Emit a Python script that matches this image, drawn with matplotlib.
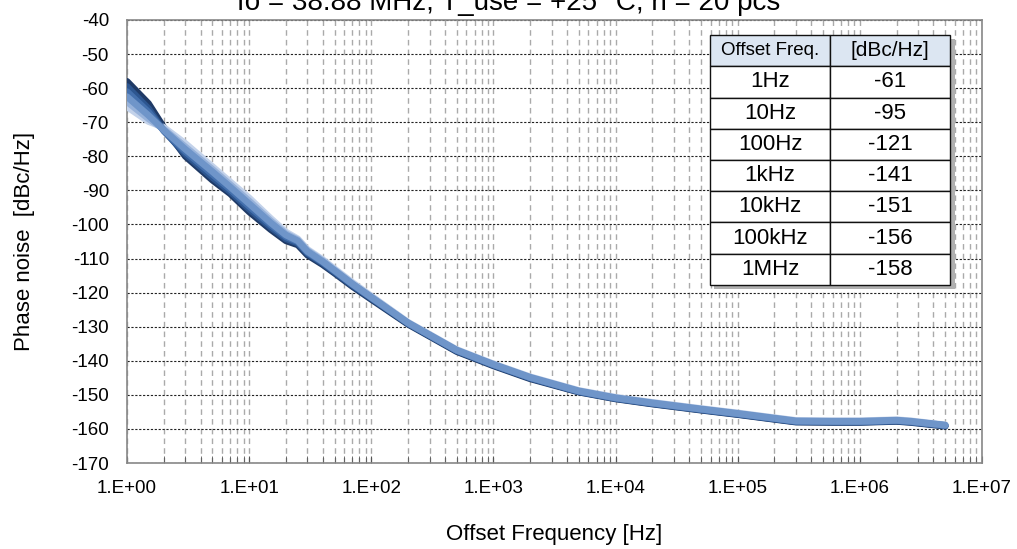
import matplotlib.pyplot as plt
from matplotlib.ticker import FuncFormatter, LogLocator, MultipleLocator
from matplotlib.patches import Rectangle
import numpy as np

plt.rcParams['font.family'] = ['Liberation Sans', 'DejaVu Sans']
plt.rcParams['axes.unicode_minus'] = False

# offset frequencies [Hz]
freq = [1, 1.5, 2, 3, 5, 7, 10, 15, 20, 25, 30, 40, 50, 70, 100,
        200, 500, 1e3, 2e3, 5e3, 1e4, 2e4, 5e4, 1e5, 2e5, 3e5, 6e5, 1e6, 2e6, 2.6e6, 5e6]

# phase noise of a few samples [dBc/Hz]
pn_1 = [-58, -64.5, -71.5, -80, -87, -91, -96.3, -101.5, -104.8, -106, -109, -111.8, -114.3, -118.2, -122.0,
        -129.3, -137.3, -141.5, -145.3, -149.2, -151.2, -152.7, -154.5, -155.8, -157.2, -158.0, -158.1, -158.1, -157.8, -158.1, -159.2]
pn_2 = [-59.5, -66, -72.5, -79.3, -86.2, -90.4, -95.5, -100.8, -104.2, -105.5, -108.5, -111.4, -114.0, -117.9, -121.7,
        -129.1, -137.1, -141.3, -145.1, -149.1, -151.1, -152.6, -154.4, -155.7, -157.1, -157.9, -158.0, -158.0, -157.7, -158.0, -159.1]
pn_3 = [-61, -67, -72.5, -78.6, -85.3, -89.7, -94.7, -100.1, -103.6, -105.1, -108.2, -111.1, -113.7, -117.6, -121.5,
        -129.0, -137.0, -141.2, -145.0, -149.0, -151.0, -152.5, -154.3, -155.6, -157.0, -157.8, -157.9, -157.9, -157.6, -157.9, -159.0]
pn_4 = [-62.5, -68, -72.3, -77.9, -84.5, -89, -93.9, -99.5, -103.1, -104.8, -107.9, -110.9, -113.5, -117.5, -121.4,
        -128.9, -136.9, -141.1, -144.9, -148.9, -150.9, -152.4, -154.2, -155.5, -156.9, -157.7, -157.8, -157.8, -157.5, -157.8, -158.9]
pn_5 = [-64, -69, -72, -77.2, -83.8, -88.3, -93.1, -98.9, -102.7, -104.5, -107.6, -110.6, -113.3, -117.3, -121.2,
        -128.8, -136.8, -141.0, -144.8, -148.8, -150.8, -152.3, -154.1, -155.4, -156.8, -157.6, -157.7, -157.7, -157.4, -157.7, -158.9]
pn_6 = [-65.5, -69.8, -71.5, -76.2, -83, -87.5, -92.2, -98.2, -102.2, -104.2, -107.3, -110.3, -113.0, -117.0, -121.0,
        -128.7, -136.7, -140.9, -144.7, -148.7, -150.7, -152.2, -154.0, -155.3, -156.7, -157.5, -157.6, -157.6, -157.3, -157.6, -158.8]

# typical values table
tbl_freq = ['1Hz', '10Hz', '100Hz', '1kHz', '10kHz', '100kHz', '1MHz']
tbl_pn = ['-61', '-95', '-121', '-141', '-151', '-156', '-158']

fig = plt.figure(figsize=(10.17, 5.49), dpi=100)
ax = fig.add_subplot(111)
fig.subplots_adjust(left=127/1017, right=982/1017, bottom=1-463/549, top=1-20/549)

# dark first, medium blue last (on top)
series = [(pn_1, '#1f3a66'), (pn_6, '#c3d2ea'), (pn_2, '#2d5690'),
          (pn_5, '#97b2da'), (pn_3, '#4470ad'), (pn_4, '#6f95c9')]
for vals, c in series:
    ax.plot(freq, vals, color=c, lw=4.8, solid_capstyle='round', solid_joinstyle='round', zorder=3)

ax.set_xscale('log')
ax.set_xlim(1, 1e7)
ax.set_ylim(-170, -40)
ax.yaxis.set_major_locator(MultipleLocator(10))
ax.xaxis.set_major_locator(LogLocator(base=10, numticks=10))
ax.xaxis.set_minor_locator(LogLocator(base=10, subs=np.arange(2, 10), numticks=100))
ax.xaxis.set_major_formatter(FuncFormatter(lambda x, p: '1.E+%02d' % int(round(np.log10(x)))))
ax.xaxis.set_minor_formatter(FuncFormatter(lambda x, p: ''))

ax.grid(True, axis='y', which='major', color='#222222', ls=(0, (2, 1.5)), lw=0.8)
ax.grid(True, axis='x', which='both', color='#aaaaaa', ls=(0, (4, 3)), lw=1.0)

ax.tick_params(axis='x', which='both', direction='in', length=5, color='#555555',
               labelsize=13.5, pad=12)
ax.tick_params(axis='y', length=0, labelsize=13.5, pad=13)
for s in ax.spines.values():
    s.set_color('#888888')
    s.set_linewidth(1.2)

ax.set_xlabel('Offset Frequency [Hz]', fontsize=16, labelpad=20)
ax.set_ylabel('Phase noise  [dBc/Hz]', fontsize=16, labelpad=26)

fig.text(0.5, 1 - 10/549, 'fo = 38.88 MHz, T_use = +25 °C, n = 20 pcs',
         ha='center', va='baseline', fontsize=20)

# table
x0, y0, w, h = 0.682, 0.402, 0.281, 0.564
ax.add_patch(Rectangle((x0 + 0.005, y0 - 0.009), w, h, transform=ax.transAxes,
                       facecolor='#b0b0b0', edgecolor='none', zorder=4))
rows = [['Offset Freq.', '[dBc/Hz]']] + [[a, b] for a, b in zip(tbl_freq, tbl_pn)]
tb = ax.table(cellText=rows, bbox=[x0, y0, w, h], cellLoc='center', zorder=5)
tb.auto_set_font_size(False)
for (r, c), cell in tb.get_celld().items():
    cell.set_edgecolor('#111111')
    cell.set_linewidth(1.0)
    if r == 0:
        cell.set_facecolor('#dce6f2')
        cell.get_text().set_fontsize(13.5 if c == 0 else 15)
    else:
        cell.set_facecolor('white')
        cell.get_text().set_fontsize(16)

fig.savefig('out.png', dpi=100)
